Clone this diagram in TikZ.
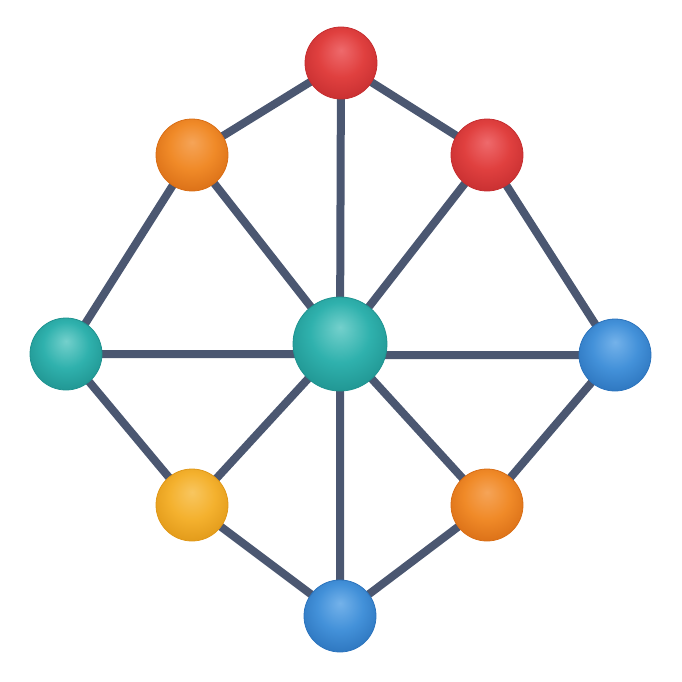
\documentclass[tikz,border=0pt]{standalone}
\usetikzlibrary{shadings,backgrounds}
\definecolor{edgec}{HTML}{4B5771}
\definecolor{redL}{HTML}{EE6A6C}\definecolor{redB}{HTML}{E0403F}\definecolor{redD}{HTML}{C62E30}
\definecolor{orL}{HTML}{F5A458}\definecolor{orB}{HTML}{F08A28}\definecolor{orD}{HTML}{D96E16}
\definecolor{yeL}{HTML}{F8C660}\definecolor{yeB}{HTML}{F4B12E}\definecolor{yeD}{HTML}{E09818}
\definecolor{teL}{HTML}{74D0CC}\definecolor{teB}{HTML}{2FB1AD}\definecolor{teD}{HTML}{1F9390}
\definecolor{blL}{HTML}{74B2EA}\definecolor{blB}{HTML}{4391D9}\definecolor{blD}{HTML}{2C74BD}
\pgfdeclareradialshading{redS}{\pgfpoint{0bp}{9bp}}{color(0bp)=(redL); color(16bp)=(redB); color(31bp)=(redD); color(50bp)=(redD)}
\pgfdeclareradialshading{orS}{\pgfpoint{0bp}{9bp}}{color(0bp)=(orL); color(16bp)=(orB); color(31bp)=(orD); color(50bp)=(orD)}
\pgfdeclareradialshading{yeS}{\pgfpoint{0bp}{9bp}}{color(0bp)=(yeL); color(16bp)=(yeB); color(31bp)=(yeD); color(50bp)=(yeD)}
\pgfdeclareradialshading{teS}{\pgfpoint{0bp}{9bp}}{color(0bp)=(teL); color(16bp)=(teB); color(31bp)=(teD); color(50bp)=(teD)}
\pgfdeclareradialshading{blS}{\pgfpoint{0bp}{9bp}}{color(0bp)=(blL); color(16bp)=(blB); color(31bp)=(blD); color(50bp)=(blD)}
\tikzset{
  ballnode/.style={circle,inner sep=0pt,minimum size=72pt,draw=#1D,line width=0.8pt,shading=#1S},
  bignode/.style={ballnode=#1,minimum size=94pt},
  link/.style={draw=edgec,line width=8pt}
}
\begin{document}
\begin{tikzpicture}[x=1pt,y=-1pt]
\useasboundingbox (0,0) rectangle (682,682);
\node[ballnode=red] (top) at (341,63) {};
\node[ballnode=or] (ul) at (192,155) {};
\node[ballnode=red] (ur) at (487,155) {};
\node[ballnode=te] (left) at (66,354) {};
\node[bignode=te] (c) at (340,344) {};
\node[ballnode=bl] (right) at (615,355) {};
\node[ballnode=ye] (ll) at (192,505) {};
\node[ballnode=or] (lr) at (487,505) {};
\node[ballnode=bl] (bot) at (340,616) {};
\begin{scope}[on background layer]
\path[link] (top.center) -- (ul.center) (top.center) -- (ur.center) (top.center) -- (c.center)
  (ul.center) -- (left.center) (ul.center) -- (c.center)
  (ur.center) -- (right.center) (ur.center) -- (c.center)
  (left.center) -- (left.center -| c.center) (c.center |- right.center) -- (right.center)
  (left.center) -- (ll.center) (ll.center) -- (c.center) (ll.center) -- (bot.center)
  (right.center) -- (lr.center) (lr.center) -- (c.center) (lr.center) -- (bot.center)
  (c.center) -- (bot.center);
\end{scope}
\end{tikzpicture}
\end{document}
